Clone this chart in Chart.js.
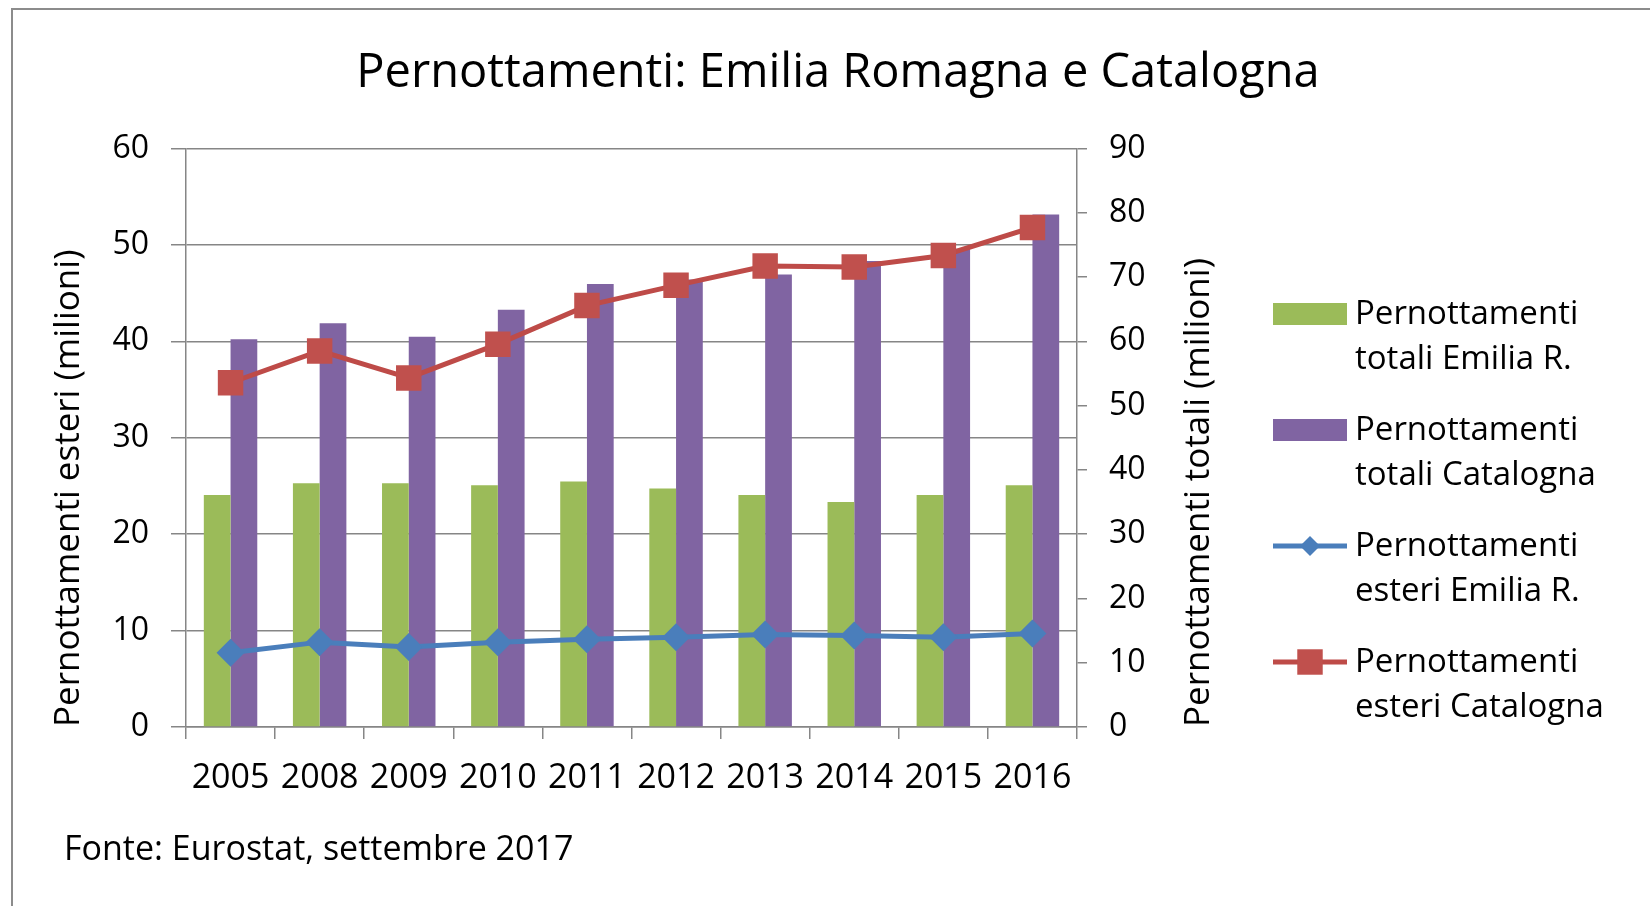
<!DOCTYPE html>
<html lang="it">
<head>
<meta charset="utf-8">
<title>Pernottamenti: Emilia Romagna e Catalogna</title>
<script src="https://cdn.jsdelivr.net/npm/chart.js@4.4.0/dist/chart.umd.min.js"></script>
<style>
  html, body { margin: 0; padding: 0; background: #fff; overflow: hidden; }
  #cornice { position: absolute; left: 11px; top: 8px; width: 1700px; height: 1000px; border: 2px solid #8c8c8c; box-sizing: border-box; }
  #contenitore { position: absolute; left: 0; top: 0; width: 1650px; height: 906px; }
</style>
</head>
<body>
<div id="cornice"></div>
<div id="contenitore"><canvas id="grafico"></canvas></div>
<script>
// Dati Eurostat, milioni di pernottamenti
const anni = ['2005', '2008', '2009', '2010', '2011', '2012', '2013', '2014', '2015', '2016'];
const totaliEmilia = [36.1, 37.9, 37.9, 37.6, 38.2, 37.1, 36.1, 35.0, 36.1, 37.6];
const totaliCatalogna = [60.3, 62.8, 60.7, 64.9, 68.9, 69.6, 70.4, 72.5, 74.4, 79.7];
const esteriEmilia = [7.7, 8.8, 8.3, 8.8, 9.1, 9.3, 9.6, 9.5, 9.3, 9.7];
const esteriCatalogna = [35.7, 39.0, 36.2, 39.7, 43.7, 45.8, 47.8, 47.7, 48.9, 51.8];

const tickEsteri = [0, 10, 20, 30, 40, 50, 60];
const tickTotali = [0, 10, 20, 30, 40, 50, 60, 70, 80, 90];

const FONT = '"Open Sans", Lato, sans-serif';
const GRIGIO = '#868686';

// legenda su due righe, titolo dell'asse destro e fonte
const decorazioni = {
  id: 'decorazioni',
  afterDraw(chart) {
    const { ctx, chartArea } = chart;
    ctx.save();
    ctx.fillStyle = '#000';

    // titolo asse destro, letto dal basso verso l'alto
    ctx.save();
    ctx.font = `35px ${FONT}`;
    ctx.translate(1199, chartArea.bottom);
    ctx.rotate(-Math.PI / 2);
    ctx.textAlign = 'left';
    ctx.textBaseline = 'middle';
    ctx.fillText('Pernottamenti totali (milioni)', 0, 0);
    ctx.restore();

    // legenda
    ctx.font = `33px ${FONT}`;
    ctx.textAlign = 'left';
    ctx.textBaseline = 'middle';
    chart.data.datasets.forEach((ds, i) => {
      const y = 314 + i * 116;
      if (ds.type === 'bar') {
        ctx.fillStyle = ds.backgroundColor;
        ctx.fillRect(1273, y - 11, 74, 22);
      } else {
        ctx.strokeStyle = ds.borderColor;
        ctx.lineWidth = ds.borderWidth;
        ctx.beginPath();
        ctx.moveTo(1273, y);
        ctx.lineTo(1347, y);
        ctx.stroke();
        ctx.fillStyle = ds.backgroundColor;
        Chart.helpers.drawPoint(ctx, { pointStyle: ds.pointStyle, radius: ds.legendRadius, borderWidth: 0, rotation: 0 }, 1310, y);
      }
      const parole = ds.label.split(' ');
      ctx.fillStyle = '#000';
      ctx.fillText(parole[0], 1355, y + 1);
      ctx.fillText(parole.slice(1).join(' '), 1355, y + 46);
    });

    // fonte
    ctx.font = `34px ${FONT}`;
    ctx.fillText('Fonte: Eurostat, settembre 2017', 64, 850);
    ctx.restore();
  }
};

new Chart(document.getElementById('grafico'), {
  data: {
    labels: anni,
    datasets: [
      {
        type: 'bar',
        label: 'Pernottamenti totali Emilia R.',
        data: totaliEmilia,
        backgroundColor: '#9BBB59',
        yAxisID: 'yTotali',
        order: 2,
        categoryPercentage: 0.6,
        barPercentage: 1
      },
      {
        type: 'bar',
        label: 'Pernottamenti totali Catalogna',
        data: totaliCatalogna,
        backgroundColor: '#8064A2',
        yAxisID: 'yTotali',
        order: 2,
        categoryPercentage: 0.6,
        barPercentage: 1
      },
      {
        type: 'line',
        label: 'Pernottamenti esteri Emilia R.',
        data: esteriEmilia,
        borderColor: '#4A7EBB',
        backgroundColor: '#4A7EBB',
        borderWidth: 5,
        pointStyle: 'rectRot',
        pointRadius: 14,
        pointBorderWidth: 0,
        legendRadius: 10,
        tension: 0,
        yAxisID: 'yEsteri',
        order: 1
      },
      {
        type: 'line',
        label: 'Pernottamenti esteri Catalogna',
        data: esteriCatalogna,
        borderColor: '#BE4B48',
        backgroundColor: '#C0504D',
        borderWidth: 5,
        pointStyle: 'rect',
        pointRadius: 18,
        pointBorderWidth: 0,
        legendRadius: 18,
        tension: 0,
        yAxisID: 'yEsteri',
        order: 0
      }
    ]
  },
  options: {
    responsive: true,
    maintainAspectRatio: false,
    animation: false,
    layout: { padding: { left: 26, right: 0, top: 0, bottom: 91 } },
    plugins: {
      legend: { display: false },
      tooltip: { enabled: false },
      title: {
        display: true,
        text: 'Pernottamenti: Emilia Romagna e Catalogna',
        color: '#000',
        font: { family: FONT, size: 47, weight: 'normal' },
        padding: { top: 45, bottom: 47 }
      }
    },
    scales: {
      x: {
        grid: { offset: true, drawOnChartArea: false, tickLength: 12, color: GRIGIO, lineWidth: 1.5 },
        border: { color: GRIGIO, width: 1.5 },
        ticks: { color: '#000', font: { family: FONT, size: 34 }, padding: 19, maxRotation: 0, autoSkip: false },
        afterFit: s => { s.height = 88; }
      },
      yEsteri: {
        position: 'left',
        min: 0,
        max: 60,
        afterBuildTicks: s => { s.ticks = tickEsteri.map(v => ({ value: v })); },
        grid: { color: GRIGIO, lineWidth: 1.5, tickLength: 15 },
        border: { color: GRIGIO, width: 1.5 },
        ticks: { color: '#000', font: { family: FONT, size: 32 }, padding: 22 },
        title: {
          display: true,
          text: 'Pernottamenti esteri (milioni)',
          align: 'start',
          color: '#000',
          font: { family: FONT, size: 35 },
          padding: { top: 22, bottom: 0 }
        },
        afterFit: s => { s.width = 160; }
      },
      yTotali: {
        position: 'right',
        min: 0,
        max: 90,
        afterBuildTicks: s => { s.ticks = tickTotali.map(v => ({ value: v })); },
        grid: { drawOnChartArea: false, color: GRIGIO, lineWidth: 1.5, tickLength: 10 },
        border: { color: GRIGIO, width: 1.5 },
        ticks: { color: '#000', font: { family: FONT, size: 32 }, padding: 22 },
        afterFit: s => { s.width = 573; }
      }
    }
  },
  plugins: [decorazioni]
});
</script>
</body>
</html>
